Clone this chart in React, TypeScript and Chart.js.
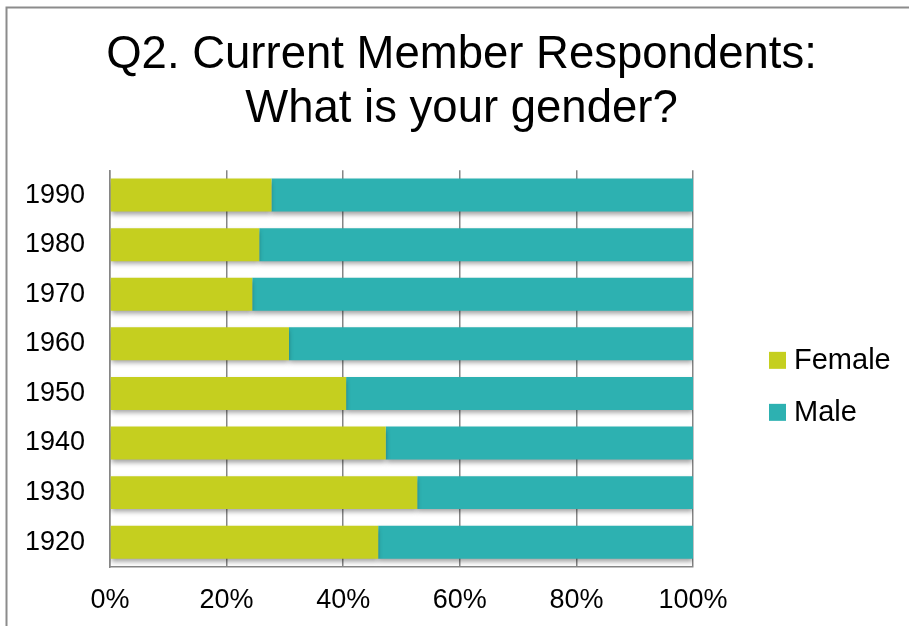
import React, { useEffect, useRef } from 'react';
import { Chart, registerables, layouts } from 'chart.js';

Chart.register(...registerables);

const decades: string[] = ['1990', '1980', '1970', '1960', '1950', '1940', '1930', '1920'];
const femaleShare: number[] = [27.7, 25.6, 24.4, 30.7, 40.5, 47.3, 52.7, 46.0];
const maleShare: number[] = [72.3, 74.4, 75.6, 69.3, 59.5, 52.7, 47.3, 54.0];
const seriesNames: string[] = ['Female', 'Male'];
const seriesColors: string[] = ['#C5CF1F', '#2DB1B1'];
const xTickValues: number[] = [0, 20, 40, 60, 80, 100];
const titleLines: string[] = ['Q2. Current Member Respondents:', 'What is your gender?'];

const FONT = '"Liberation Sans", Arial, sans-serif';
const LEGEND_SPACE = 216;

const frameBorder = {
  id: 'frameBorder',
  beforeDraw(chart: any) {
    const { ctx, width, height } = chart;
    ctx.save();
    ctx.fillStyle = '#ffffff';
    ctx.fillRect(0, 0, width, height);
    ctx.strokeStyle = '#8c8c8c';
    ctx.lineWidth = 2;
    ctx.beginPath();
    ctx.moveTo(6.5, height);
    ctx.lineTo(6.5, 7.5);
    ctx.lineTo(width, 7.5);
    ctx.stroke();
    ctx.restore();
  },
};

const legendSpace = {
  id: 'legendSpace',
  beforeInit(chart: any) {
    const box: any = {
      position: 'right',
      weight: 100,
      fullSize: false,
      options: { stackWeight: 1 },
      left: 0,
      top: 0,
      right: 0,
      bottom: 0,
      width: 0,
      height: 0,
      isHorizontal() {
        return false;
      },
      update(_maxWidth: number, maxHeight: number) {
        this.width = LEGEND_SPACE;
        this.height = maxHeight;
      },
      draw() {},
    };
    layouts.addBox(chart, box);
  },
};

const barShadow = {
  id: 'barShadow',
  beforeDatasetsDraw(chart: any) {
    const { ctx } = chart;
    ctx.save();
    ctx.shadowColor = 'rgba(0,0,0,0.38)';
    ctx.shadowBlur = 5;
    ctx.shadowOffsetX = 0;
    ctx.shadowOffsetY = 3;
  },
  afterDatasetsDraw(chart: any) {
    chart.ctx.restore();
  },
};

const sideLegend = {
  id: 'sideLegend',
  afterDraw(chart: any) {
    const { ctx, chartArea } = chart;
    const ds = chart.data.datasets;
    ctx.save();
    ctx.font = `29px ${FONT}`;
    ctx.textBaseline = 'middle';
    ctx.textAlign = 'left';
    const x0 = chartArea.right + 76;
    const cy = (chartArea.top + chartArea.bottom) / 2 + 17.7;
    const spacing = 52;
    ds.forEach((d: any, i: number) => {
      const y = cy + (i - (ds.length - 1) / 2) * spacing;
      ctx.fillStyle = d.backgroundColor;
      ctx.fillRect(x0, y - 8.5, 17, 17);
      ctx.fillStyle = '#000000';
      ctx.fillText(d.label, x0 + 25, y + 1);
    });
    ctx.restore();
  },
};

export default function App() {
  const canvasRef = useRef<HTMLCanvasElement | null>(null);

  useEffect(() => {
    if (!canvasRef.current) return;
    const chart = new Chart(canvasRef.current, {
      type: 'bar',
      data: {
        labels: decades,
        datasets: [
          {
            label: seriesNames[0],
            data: femaleShare,
            backgroundColor: seriesColors[0],
            borderWidth: 0,
            categoryPercentage: 0.665,
            barPercentage: 1,
          },
          {
            label: seriesNames[1],
            data: maleShare,
            backgroundColor: seriesColors[1],
            borderWidth: 0,
            categoryPercentage: 0.665,
            barPercentage: 1,
          },
        ],
      },
      options: {
        indexAxis: 'y',
        responsive: false,
        animation: false,
        layout: { padding: { left: 14, right: 0, top: 0, bottom: 0 } },
        plugins: {
          legend: { display: false },
          tooltip: { enabled: false },
          title: {
            display: true,
            text: titleLines,
            color: '#000000',
            font: { family: FONT, size: 45.5, weight: 'normal', lineHeight: 1.19 },
            padding: { top: 28, bottom: 34 },
          },
        },
        scales: {
          x: {
            stacked: true,
            min: 0,
            max: 100,
            afterBuildTicks: (axis: any) => {
              axis.ticks = xTickValues.map((v) => ({ value: v }));
            },
            afterFit: (axis: any) => {
              axis.height = 59;
            },
            ticks: {
              color: '#000000',
              font: { family: FONT, size: 27 },
              padding: 17,
              maxRotation: 0,
              callback: (v: any) => `${v}%`,
            },
            grid: { color: '#868686', lineWidth: 1.5, drawTicks: false },
            border: { display: true, color: '#868686', width: 1.5 },
          },
          y: {
            stacked: true,
            afterFit: (axis: any) => {
              axis.width = 96;
            },
            ticks: {
              color: '#000000',
              font: { family: FONT, size: 27 },
              padding: 25,
            },
            grid: { display: false, drawTicks: false },
            border: { display: true, color: '#868686', width: 1.5 },
          },
        },
      } as any,
      plugins: [frameBorder, legendSpace, barShadow, sideLegend],
    });
    return () => chart.destroy();
  }, []);

  return (
    <div style={{ position: 'absolute', left: 0, top: 0, width: 909, height: 626, background: '#fff' }}>
      <canvas ref={canvasRef} width={909} height={626} style={{ display: 'block' }} />
    </div>
  );
}
